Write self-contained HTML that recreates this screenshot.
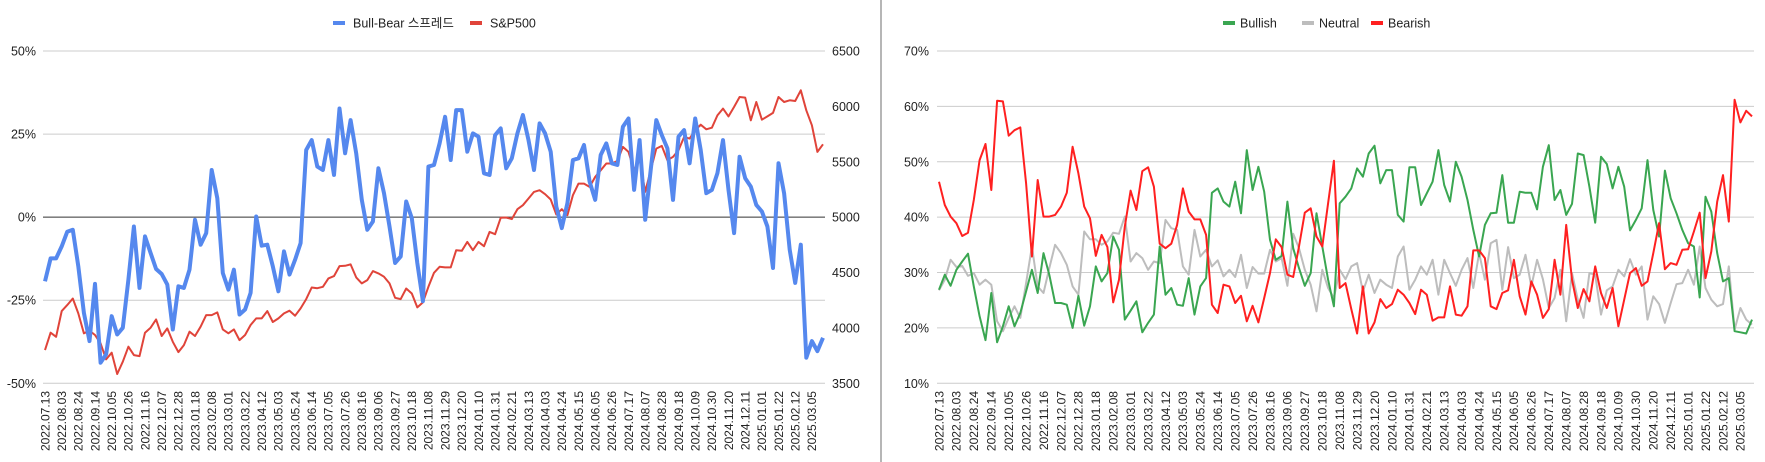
<!DOCTYPE html>
<html><head><meta charset="utf-8">
<style>
html,body{margin:0;padding:0;background:#fff;}
svg{display:block;font-family:"Liberation Sans","Noto Sans CJK KR",sans-serif;}
</style></head>
<body>
<svg id="chart" width="1765" height="462" viewBox="0 0 1765 462" xmlns="http://www.w3.org/2000/svg">
  <rect x="0" y="0" width="1765" height="462" fill="#fff"/>
  <line x1="881" y1="0" x2="881" y2="462" stroke="#9e9e9e" stroke-width="1.5"/>
  <g id="left"></g>
  <g id="right"></g>
  <g font-size="12.5" fill="#222">
    <rect x="333" y="21" width="12" height="4" fill="#5588ee"/>
    <text x="353" y="27.5">Bull-Bear 스프레드</text>
    <rect x="470" y="21" width="12" height="4" fill="#e0443a"/>
    <text x="490" y="27.5">S&amp;P500</text>
  </g>
  <g font-size="12.5" fill="#222">
    <rect x="1223" y="21" width="12" height="4" fill="#3aa651"/>
    <text x="1240" y="27.5">Bullish</text>
    <rect x="1302" y="21" width="12" height="4" fill="#bdbdbd"/>
    <text x="1319" y="27.5">Neutral</text>
    <rect x="1371" y="21" width="12" height="4" fill="#ff2020"/>
    <text x="1388" y="27.5">Bearish</text>
  </g>
</svg>
<script>
const spread = [
-19.3,-12.4,-12.4,-8.8,-4.4,-3.8,-14.8,-28.8,-37.3,-20.1,
-43.8,-41.3,-29.8,-35.3,-33.3,-18.8,-2.8,-21.3,-5.8,-10.8,
-15.6,-17.1,-20.3,-33.8,-20.8,-21.3,-15.8,-0.8,-8.3,-4.8,
14.2,5.7,-16.8,-21.8,-15.8,-29.3,-27.8,-22.8,0.2,-8.6,
-8.3,-14.8,-22.3,-10.3,-17.3,-12.8,-7.8,20.2,23.2,15.2,
14.2,23.2,12.7,32.7,19.2,29.2,19.2,5.2,-3.8,-1.3,
14.7,7.2,-2.8,-13.8,-11.8,4.7,-0.3,-13.8,-25.3,15.2,
15.7,22.2,30.2,17.2,32.2,32.2,19.7,25.2,24.2,13.2,
12.7,24.7,26.7,14.7,17.7,25.2,30.7,23.2,14.2,28.2,
25.2,19.7,3.2,-3.3,4.2,17.2,17.7,21.7,10.7,5.2,
18.7,22.2,16.2,15.7,27.2,29.7,8.2,23.2,-0.8,14.2,
29.2,24.7,20.7,5.2,24.2,26.2,16.2,29.7,20.2,7.2,
8.2,13.2,23.2,8.2,-4.8,18.2,11.7,9.2,3.7,1.7,
-2.8,-15.3,16.2,7.2,-9.8,-19.8,-8.3,-42.3,-37.3,-40.3,-36.3];
const sp500 = [
3800,3957,3920,4152,4206,4266,4131,3951,3975,3936,
3860,3716,3776,3584,3695,3830,3755,3746,3957,4002,
4077,3927,3996,3875,3782,3845,3966,3927,4011,4116,
4116,4140,3987,3951,3987,3890,3936,4026,4086,4086,
4152,4053,4086,4131,4155,4110,4176,4260,4365,4359,
4371,4447,4468,4558,4561,4573,4456,4402,4432,4513,
4492,4462,4402,4272,4260,4356,4311,4185,4230,4371,
4498,4552,4546,4546,4702,4696,4777,4702,4777,4738,
4867,4846,4994,4997,4982,5072,5108,5168,5228,5243,
5207,5159,5024,5072,5018,5198,5303,5303,5273,5363,
5423,5484,5484,5508,5634,5589,5423,5529,5228,5423,
5619,5643,5514,5544,5604,5724,5709,5784,5835,5793,
5808,5919,5980,5910,5995,6085,6079,5874,6040,5880,
5910,5941,6085,6040,6055,6049,6145,5965,5829,5589,5658];
const bullish = [
26.9,29.6,27.6,30.5,32.0,33.4,27.5,22.1,17.8,26.3,
17.4,20.3,23.9,20.3,22.7,26.6,30.5,26.3,33.5,29.6,
24.5,24.5,24.2,20.0,25.8,20.4,23.9,31.1,28.4,29.9,
36.5,34.1,21.5,23.1,24.8,19.2,20.9,22.4,34.7,26.0,
27.2,24.2,24.0,29.0,22.4,27.5,29.0,44.4,45.2,42.8,
41.9,46.4,40.7,52.1,44.9,49.1,44.6,35.9,32.3,33.0,
42.8,34.4,30.8,27.6,29.9,40.7,34.7,28.7,23.9,42.5,
43.7,45.2,48.8,47.3,51.5,52.9,46.1,48.5,48.5,40.4,
39.2,49.0,49.0,42.2,44.3,46.4,52.1,45.8,42.8,50.0,
47.3,43.1,37.7,32.9,38.6,40.7,40.8,47.6,39.0,39.0,
44.6,44.4,44.4,41.4,49.1,53.0,43.1,44.9,40.4,42.4,
51.5,51.2,45.5,39.0,50.9,49.6,45.2,49.1,45.5,37.6,
39.5,41.6,50.3,41.3,36.5,48.4,43.4,40.7,37.7,35.3,
34.7,25.5,43.7,41.0,33.5,28.4,29.0,19.4,19.2,19.0,21.5];
const neutral = [
26.8,28.7,32.3,31.0,31.2,29.4,29.9,27.8,28.7,27.8,
21.2,19.4,21.8,23.9,21.8,28.1,34.7,27.5,26.3,30.8,
35.0,33.5,31.4,27.5,26.0,37.4,36.0,36.0,35.0,35.6,
37.2,37.0,40.1,32.0,33.5,32.6,30.5,32.0,31.7,39.5,
38.0,37.7,31.1,29.6,37.7,32.9,34.1,31.1,32.2,29.3,
30.5,29.2,33.2,27.2,31.0,29.8,29.8,34.1,32.0,32.6,
27.6,37.0,34.4,30.5,27.8,23.0,30.5,27.2,25.4,30.5,
28.8,31.1,31.7,26.6,29.6,26.3,28.7,27.8,27.2,32.9,
34.7,26.9,28.7,31.1,29.6,32.3,26.0,32.3,29.9,27.6,
30.5,32.6,27.2,33.5,28.7,35.3,35.9,26.9,34.6,29.0,
29.6,33.2,27.5,32.3,28.8,23.6,25.4,30.5,21.2,29.9,
25.1,21.8,29.9,29.6,22.4,26.8,27.5,30.5,29.3,32.4,
29.6,31.1,21.5,25.7,24.3,20.9,24.5,27.9,28.1,30.5,
27.8,34.7,27.2,25.1,23.9,24.3,31.1,19.7,23.6,21.5,20.6];
const bearish = [
46.4,42.2,40.1,38.9,36.6,37.2,43.1,50.3,53.2,44.9,
61.0,60.9,54.7,55.7,56.2,46.1,32.9,46.7,40.1,40.1,
40.4,41.9,44.4,52.7,47.9,41.9,39.8,33.0,36.8,34.6,
24.6,28.7,38.3,44.8,41.3,48.3,49.0,45.5,35.2,34.4,
35.2,38.6,45.2,41.0,39.6,39.6,36.8,24.2,22.7,27.8,
27.5,24.5,25.8,21.2,24.0,21.0,25.4,29.9,36.0,34.6,
29.6,29.2,34.7,40.8,41.6,36.5,34.7,42.5,50.2,27.2,
28.1,23.4,19.0,27.5,19.0,21.0,25.2,23.6,24.3,26.9,
26.0,24.5,22.5,26.9,26.0,21.3,21.9,21.9,27.5,22.4,
22.2,23.9,34.0,34.0,32.6,23.9,23.4,26.3,26.8,32.3,
25.7,22.4,28.4,26.0,21.8,23.4,32.3,26.0,38.6,28.7,
23.6,27.0,24.8,31.1,26.3,23.6,27.2,20.3,25.1,29.9,
30.8,27.6,28.4,33.5,38.9,30.6,31.7,31.4,34.1,34.2,
37.4,40.8,29.0,33.8,42.8,47.6,39.2,61.2,57.1,59.2,58.2];
const leftTicks = ["50%","25%","0%","-25%","-50%"];
const leftTickVals = [50,25,0,-25,-50];
const spTickVals = [6500,6000,5500,5000,4500,4000,3500];
const rightTickVals = [70,60,50,40,30,20,10];

const NS = "http://www.w3.org/2000/svg";
function mk(parent, tag, attrs, text){
  const e = document.createElementNS(NS, tag);
  for (const k in attrs) e.setAttribute(k, attrs[k]);
  if (text !== undefined) e.textContent = text;
  parent.appendChild(e); return e;
}
function dateLabel(i){
  const d = new Date(Date.UTC(2022,6,13) + i*7*86400000);
  const p = n => String(n).padStart(2,"0");
  return d.getUTCFullYear()+"."+p(d.getUTCMonth()+1)+"."+p(d.getUTCDate());
}
const N = spread.length;
const TOP = 51, BOT = 383.3;

// LEFT chart
const L = document.getElementById("left");
const lx = i => 45 + i*(823-45)/(N-1);
const ly = v => TOP + (50 - v)/100*(BOT-TOP);
const sy = v => TOP + (6500 - v)/3000*(BOT-TOP);
leftTickVals.forEach((v,i)=>{
  const g = mk(L,"line",{x1:43,x2:825,y1:ly(v),y2:ly(v),stroke: v===0?"#333":"#ccc","stroke-width":1});
  
  
  const t = mk(L,"text",{x:36,y:ly(v)+4.5,"text-anchor":"end","font-size":12.5,fill:"#222"},leftTicks[i]);
  
  
});
spTickVals.forEach(v=>{
  const t = mk(L,"text",{x:832,y:sy(v)+4.5,"font-size":12.5,fill:"#222"},String(v));
  
  
});
const sp = mk(L,"polyline",{points:sp500.map((v,i)=>lx(i).toFixed(1)+","+sy(v).toFixed(1)).join(" "),fill:"none",stroke:"#e0443a","stroke-width":2,"stroke-linejoin":"round"});


const bl = mk(L,"polyline",{points:spread.map((v,i)=>lx(i).toFixed(1)+","+ly(v).toFixed(1)).join(" "),fill:"none",stroke:"#5588ee","stroke-width":4,"stroke-linejoin":"round"});


for (let i=0;i<N;i+=3){
  const x = lx(i)+4.3;
  const t = mk(L,"text",{x:x,y:391,transform:`rotate(-90 ${x} 391)`,"text-anchor":"end","font-size":12,fill:"#222"},dateLabel(i));
  
  
}

// RIGHT chart
const R = document.getElementById("right");
const rx = i => 939 + i*(1752-939)/(N-1);
const ry = v => TOP + (70 - v)/60*(BOT-TOP);
rightTickVals.forEach(v=>{
  const g = mk(R,"line",{x1:937,x2:1754,y1:ry(v),y2:ry(v),stroke:"#ccc","stroke-width":1});
  
  
  const t = mk(R,"text",{x:929,y:ry(v)+4.5,"text-anchor":"end","font-size":12.5,fill:"#222"},v+"%");
  
  
});
[[neutral,"#bdbdbd","neutral-line"],[bullish,"#3aa651","bullish-line"],[bearish,"#ff2020","bearish-line"]].forEach(s=>{
  const p = mk(R,"polyline",{points:s[0].map((v,i)=>rx(i).toFixed(1)+","+ry(v).toFixed(1)).join(" "),fill:"none",stroke:s[1],"stroke-width":2,"stroke-linejoin":"round"});
  
  
});
for (let i=0;i<N;i+=3){
  const x = rx(i)+4.3;
  const t = mk(R,"text",{x:x,y:391,transform:`rotate(-90 ${x} 391)`,"text-anchor":"end","font-size":12,fill:"#222"},dateLabel(i));
  
  
}
</script>
</body></html>
